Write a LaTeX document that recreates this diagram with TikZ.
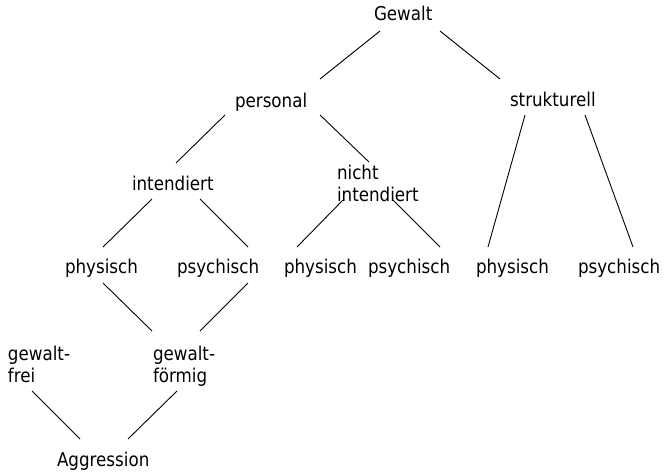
\documentclass[tikz,border=0pt]{standalone}
\usepackage{fontspec}
\setmainfont{DejaVu Sans}[FakeStretch=0.88]
\begin{document}
\begin{tikzpicture}[x=1pt,y=-1pt,
  lbl/.style={anchor=base west,inner sep=0pt,outer sep=0pt,font=\fontsize{19}{22}\selectfont},
  ml/.style={lbl,align=left},
  edge/.style={draw=black,line width=0.9pt}]
\useasboundingbox[fill=white] (0,0) rectangle (665,472);
\node[lbl] (gewalt) at (374,20) {Gewalt};
\node[lbl] (personal) at (235,107) {personal};
\node[lbl] (strukturell) at (510,106) {strukturell};
\node[lbl] (intendiert) at (132,190) {intendiert};
\node[ml] (nicht) at (337,201) {nicht\\intendiert};
\node[lbl] (phys1) at (65,273) {physisch};
\node[lbl] (psych1) at (177,273) {psychisch};
\node[lbl] (phys2) at (284,273) {physisch};
\node[lbl] (psych2) at (368,273) {psychisch};
\node[lbl] (phys3) at (476,273) {physisch};
\node[lbl] (psych3) at (578,273) {psychisch};
\node[ml] (frei) at (8,382) {gewalt-\\frei};
\node[ml] (foermig) at (153,382) {gewalt-\\förmig};
\node[lbl] (aggr) at (57,466) {Aggression};

\path[edge] ([shift={(6,11)}]gewalt.base west) -- ([shift={(85,-28)}]personal.base west);
\path[edge] ([shift={(66,11)}]gewalt.base west) -- ([shift={(-10,-27)}]strukturell.base west);
\path[edge] ([shift={(-10,8)}]personal.base west) -- ([shift={(44,-27)}]intendiert.base west);
\path[edge] ([shift={(85,8)}]personal.base west) -- ([shift={(32,-39)}]nicht.base west);
\path[edge] ([shift={(20,9)}]intendiert.base west) -- ([shift={(38,-26)}]phys1.base west);
\path[edge] ([shift={(68,9)}]intendiert.base west) -- ([shift={(71,-26)}]psych1.base west);
\path[edge] ([shift={(6,-1)}]nicht.base west) -- ([shift={(13,-26)}]phys2.base west);
\path[edge] ([shift={(56,-1)}]nicht.base west) -- ([shift={(72,-26)}]psych2.base west);
\path[edge] ([shift={(15,9)}]strukturell.base west) -- ([shift={(12,-26)}]phys3.base west);
\path[edge] ([shift={(75,9)}]strukturell.base west) -- ([shift={(55,-26)}]psych3.base west);
\path[edge] ([shift={(38,10)}]phys1.base west) -- ([shift={(-1,-51)}]foermig.base west);
\path[edge] ([shift={(71,10)}]psych1.base west) -- ([shift={(47,-51)}]foermig.base west);
\path[edge] ([shift={(24,9)}]frei.base west) -- ([shift={(23,-27)}]aggr.base west);
\path[edge] ([shift={(24,9)}]foermig.base west) -- ([shift={(71,-27)}]aggr.base west);
\end{tikzpicture}
\end{document}
